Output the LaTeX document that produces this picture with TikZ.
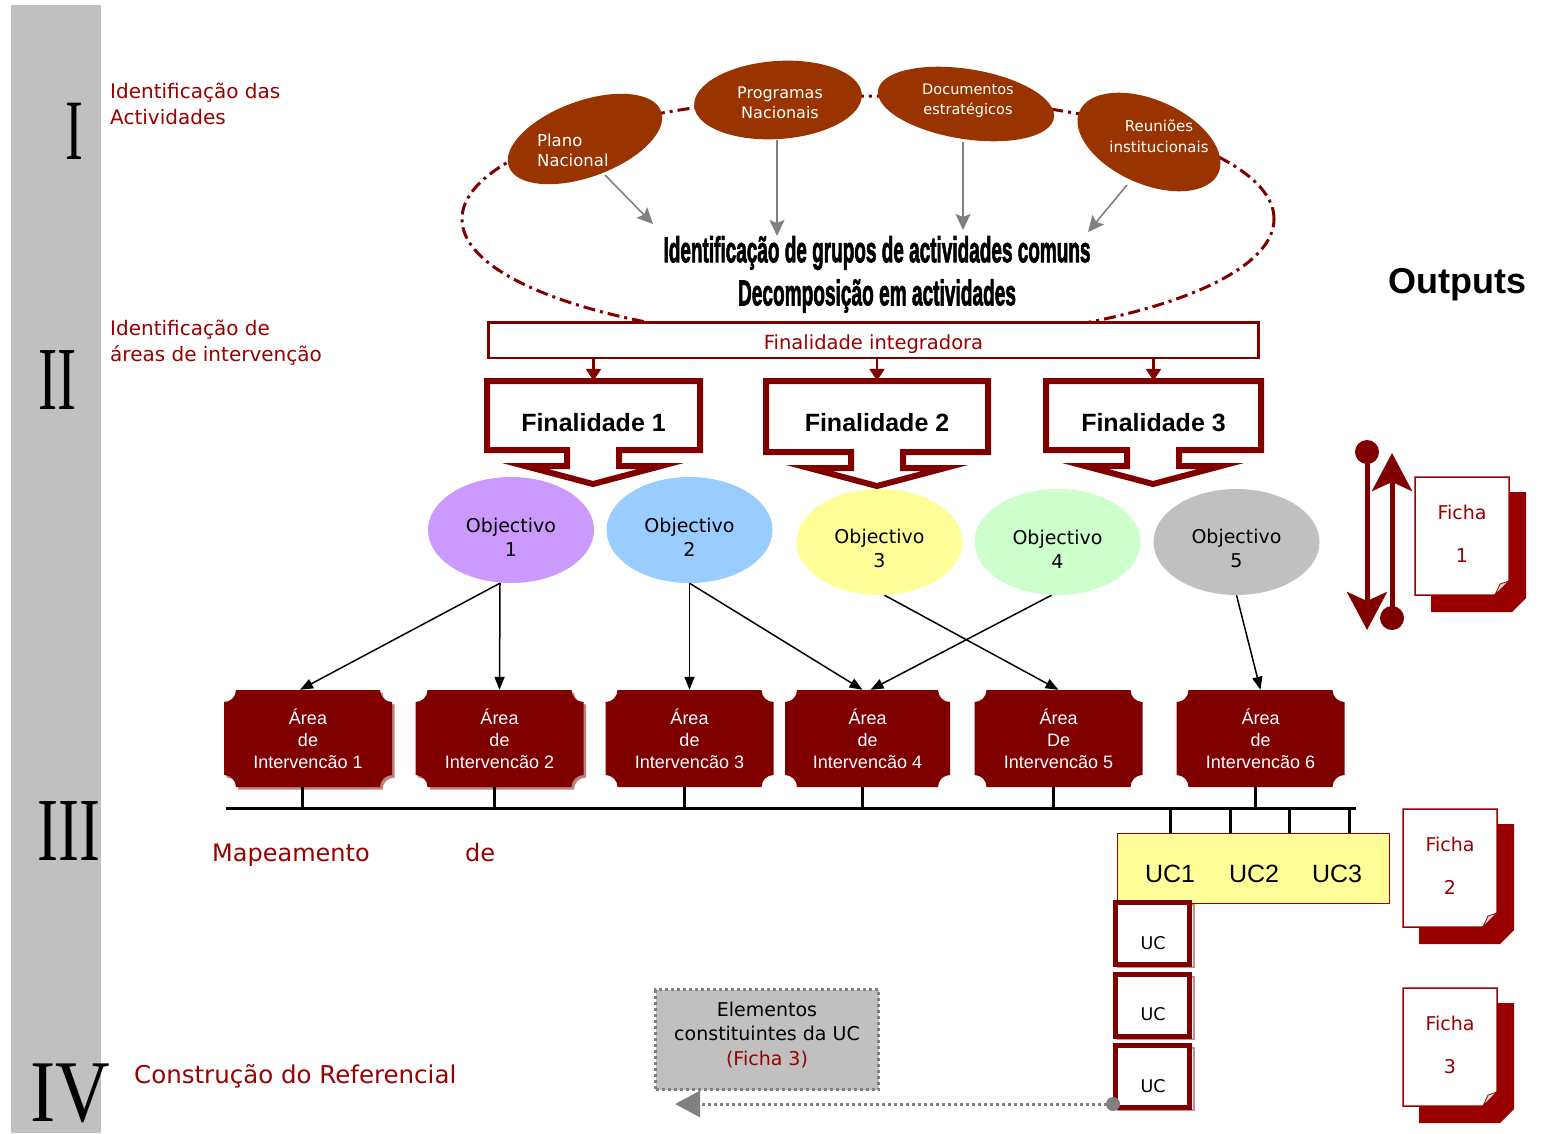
\documentclass[tikz,border=0pt]{standalone}
\usepackage{graphicx}
\usepackage{fontspec}
\setmainfont{DejaVu Sans}
\newfontfamily\arialf{Liberation Sans}
\newfontfamily\heavyf[BoldFeatures={FakeBold=2.5}]{Liberation Sans}
\newfontfamily\timesf{Liberation Serif}
\usetikzlibrary{shapes.geometric,arrows.meta,calc}
\definecolor{dred}{HTML}{800000}
\definecolor{lred}{HTML}{990000}
\definecolor{bub}{HTML}{993300}
\definecolor{bandgray}{HTML}{C0C0C0}
\definecolor{garr}{HTML}{808080}
\definecolor{obA}{HTML}{CC99FF}
\definecolor{obB}{HTML}{99CCFF}
\definecolor{obC}{HTML}{FFFF99}
\definecolor{obD}{HTML}{CCFFCC}
\definecolor{obE}{HTML}{C0C0C0}
\definecolor{ucyel}{HTML}{FFFF99}
\definecolor{areaedge}{HTML}{C08080}
\newsavebox\fitbox
\newcommand\fitto[2]{\sbox\fitbox{#2}\edef\fitscale{\fpeval{#1*65536/\number\wd\fitbox}}\scalebox{\fitscale}[1]{\usebox\fitbox}}
\newcommand\fs[2]{\fontsize{#1}{#2}\selectfont}
% finalidade callout outline: left, right, top, bottom, centre x
\newcommand\finshape[5]{\draw[finline] (#1,-#3) -- (#2,-#3) -- (#2,-#4) -- ({#5+26},-#4) -- ({#5+26},{-#4-16}) -- ({#5+68},{-#4-16}) -- (#5,{-#4-34}) -- ({#5-68},{-#4-16}) -- ({#5-26},{-#4-16}) -- ({#5-26},-#4) -- (#1,-#4) -- cycle;}
% ficha page: name, x, y(top), number
\newcommand\fichapage[4]{%
  \fill[lred] ({#2+16},{-#3-15}) -- ({#2+111},{-#3-15}) -- ({#2+111},{-#3-121}) -- ({#2+97},{-#3-135}) -- ({#2+16},{-#3-135}) -- cycle;
  \draw[lred, fill=white, line width=1.5pt] (#2,-#3) -- ({#2+94},-#3) -- ({#2+94},{-#3-104}) -- ({#2+80},{-#3-118}) -- (#2,{-#3-118}) -- cycle;
  \draw[lred, fill=gray!30, line width=0.8pt] ({#2+94},{-#3-104}) -- ({#2+85},{-#3-107}) -- ({#2+80},{-#3-118}) -- cycle;
  \node[fichatext] (#1) at ({#2+47},{-#3-57}) {Ficha\\#4};}
\newcommand\objtxt[1]{\rule{0pt}{28pt}Objectivo\\#1}
\begin{document}
\begin{tikzpicture}[x=1pt,y=1pt,
  roman/.style={inner sep=0, font=\timesf\fs{90}{90}},
  lab/.style={text=lred, align=left, inner sep=0, anchor=west, font=\fs{20}{26}},
  biglab/.style={text=lred, inner sep=0, anchor=base west, font=\fs{24}{28}},
  bubble/.style={ellipse, fill=bub, inner sep=0},
  btext/.style={text=white, inner sep=0, align=center},
  garrow/.style={draw=garr, line width=1.6pt, -{Stealth[length=16pt,width=15pt,inset=3pt]}},
  finline/.style={draw=dred, fill=white, line width=6pt, line join=miter},
  finnode/.style={inner sep=0, font=\arialf\bfseries\fs{25}{25}},
  finarr/.style={draw=dred, line width=2.5pt, -{Triangle[length=12pt,width=15pt]}},
  obj/.style={ellipse, minimum width=166pt, minimum height=106pt, inner sep=0, align=center, font=\fs{19}{24}},
  objarr/.style={draw=black, line width=1.5pt, -{Triangle[length=13pt,width=10pt]}},
  plaque/.style={minimum width=168pt, minimum height=97pt, inner sep=0,
    path picture={
      \path (path picture bounding box.south west) coordinate (pSW)
            (path picture bounding box.north east) coordinate (pNE);
      \fill[#1] let \p1=(pSW), \p2=(pNE) in
        (\x1+12pt,\y2) -- (\x2-12pt,\y2) arc[start angle=180,end angle=270,radius=12pt]
        -- (\x2,\y1+12pt) arc[start angle=90,end angle=180,radius=12pt]
        -- (\x1+12pt,\y1) arc[start angle=0,end angle=90,radius=12pt]
        -- (\x1,\y2-12pt) arc[start angle=270,end angle=360,radius=12pt] -- cycle;}},
  area/.style={plaque=dred, align=center, text=white, font=\arialf\fs{18}{22}},
  bus/.style={draw=black, line width=3pt},
  ucsmall/.style={draw=dred, line width=5pt, fill=white, minimum width=74pt, minimum height=62pt, inner sep=0},
  uctext/.style={inner sep=0, font=\fs{17.5}{20}},
  fichatext/.style={text=lred, align=center, inner sep=0, font=\fs{19}{43}},
  redarr/.style={draw=dred, line width=5pt, -{Stealth[length=38pt,width=40pt,inset=9pt]}}
]
\useasboundingbox (0,0) rectangle (1549,-1133);

% left band and stage numerals
\fill[bandgray] (11,-5) rectangle (101,-1133);
\node[roman, font=\timesf\fs{86}{86}] (rI) at (74.5,-131.5) {\scalebox{0.62}[1]{I}};
\node[roman] (rII) at (58,-380) {\scalebox{0.64}[1]{II}};
\node[roman] (rIII) at (69,-831) {\scalebox{0.7}[1]{III}};
\node[roman, font=\timesf\fs{88}{88}] (rIV) at (70,-1093) {\scalebox{0.86}[1]{IV}};

% stage labels
\node[lab] (l1) at (110,-104) {Identificação das\\Actividades};
\node[lab] (l2) at (110,-343) {Identificação de\\áreas de intervenção};
\node[biglab] (l3a) at (212,-861) {Mapeamento};
\node[biglab] (l3b) at (465,-861) {de};
\node[biglab, font=\fs{24.5}{28}] (l4) at (134,-1083) {Construção do Referencial};
\node[inner sep=0, font=\arialf\bfseries\fs{36}{36}] (outputs) at (1457,-285) {Outputs};

% big dash-dot ellipse
\draw[dred, line width=3pt, dash pattern=on 12pt off 5pt on 3pt off 5pt] (868,-219) ellipse [x radius=406, y radius=123];

% source bubbles
\node[bubble, minimum width=162pt, minimum height=76pt, rotate=20] (b1) at (585,-139) {};
\node[bubble, minimum width=168pt, minimum height=78pt, rotate=4] (b2) at (778,-100) {};
\node[bubble, minimum width=178pt, minimum height=70pt, rotate=-9] (b3) at (966,-104) {};
\node[bubble, minimum width=152pt, minimum height=84pt, rotate=-24] (b4) at (1149,-142) {};
\node[btext, align=left, anchor=west, font=\fs{16.5}{20}] (b1t) at (537,-150) {Plano\\Nacional};
\node[btext, font=\fs{16}{20}] (b2t) at (780,-103) {Programas\\Nacionais};
\node[btext, font=\fs{14.5}{20}] (b3t) at (968,-101) {Documentos\\estratégicos};
\node[btext, font=\fs{15}{21}] (b4t) at (1159,-136.5) {Reuniões\\institucionais};

% central texts
\node[inner sep=0, font=\heavyf\bfseries\fs{36}{36}] (idA) at (877,-253) {\fitto{427}{Identificação de grupos de actividades comuns}};
\node[inner sep=0, font=\heavyf\bfseries\fs{36}{36}] (idB) at (877,-296) {\fitto{278}{Decomposição em actividades}};
\coordinate (t1) at (653,-224);
\coordinate (t2) at (777,-236);
\coordinate (t3) at (963,-230);
\coordinate (t4) at (1088,-232);
\draw[garrow] ($(b1)+(20,-36)$) -- (t1);
\draw[garrow] ($(b2)+(-1,-40)$) -- (t2);
\draw[garrow] ($(b3)+(-3,-38)$) -- (t3);
\draw[garrow] ($(b4)+(-22,-43)$) -- (t4);

% finalidade integradora
\node[draw=dred, fill=white, line width=2.5pt, minimum width=770pt, minimum height=35.5pt, inner sep=0, text=lred, font=\fs{19.5}{24}] (fint) at (873.5,-340) {\raisebox{-9pt}[0pt][0pt]{Finalidade integradora}};

% finalidades
\finshape{487}{700}{381}{450}{593}
\finshape{766}{988}{381}{452}{877}
\finshape{1046}{1261}{381}{450}{1153}
\node[finnode, minimum width=213pt, minimum height=69pt] (f1) at (593.5,-415.5) {\raisebox{-15.5pt}[0pt][0pt]{Finalidade 1}};
\node[finnode, minimum width=222pt, minimum height=71pt] (f2) at (877,-416.5) {\raisebox{-15pt}[0pt][0pt]{Finalidade 2}};
\node[finnode, minimum width=215pt, minimum height=69pt] (f3) at (1153.5,-415.5) {\raisebox{-15.5pt}[0pt][0pt]{Finalidade 3}};
\draw[finarr] (fint.south -| f1.north) -- (f1.north);
\draw[finarr] (fint.south -| f2.north) -- (f2.north);
\draw[finarr] (fint.south -| f3.north) -- (f3.north);

% objectives
\node[obj, fill=obA] (o1) at (511,-530) {\objtxt{1}};
\node[obj, fill=obB] (o2) at (689.5,-530) {\objtxt{2}};
\node[obj, fill=obC] (o3) at (879.5,-542) {\objtxt{3}};
\node[obj, fill=obD] (o4) at (1057.5,-542) {\objtxt{4}};
\node[obj, fill=obE] (o5) at (1236.5,-542) {\objtxt{5}};

% light 3D edge behind areas 1 and 2
\node[plaque=areaedge] (a1e) at (310.5,-741) {};
\node[plaque=areaedge] (a2e) at (502,-741) {};

% areas
\node[area] (a1) at (308,-738.5) {Área\\de\\Intervencão 1};
\node[area] (a2) at (499.5,-738.5) {Área\\de\\Intervencão 2};
\node[area] (a3) at (689.5,-738.5) {Área\\de\\Intervencão 3};
\node[area, minimum width=165pt] (a4) at (867.5,-738.5) {Área\\de\\Intervencão 4};
\node[area] (a5) at (1058.5,-738.5) {Área\\De\\Intervencão 5};
\node[area] (a6) at (1260.5,-738.5) {Área\\de\\Intervencão 6};

% objective -> area connectors
\draw[objarr] ([xshift=-11pt]o1.south) -- ([xshift=-8pt]a1.north);
\draw[objarr] ([xshift=-11pt]o1.south) -- (a2.north);
\draw[objarr] (o2.south) -- (a3.north);
\draw[objarr] (o2.south) -- ([xshift=-5pt]a4.north);
\draw[objarr] ([xshift=5pt]o3.south) -- (a5.north);
\draw[objarr] ([xshift=-6pt]o4.south) -- ([xshift=3pt]a4.north);
\draw[objarr] (o5.south) -- (a6.north);

% bus
\coordinate (busL) at (226,-808);
\coordinate (busR) at (1356,-808);
\draw[bus] (busL) -- (busR);
\foreach \n in {a1,a2,a3,a4,a5,a6}{\draw[bus] ([xshift=-5.5pt]\n.south) -- ++(0,-21);}

% UC block
\node[draw=lred, line width=1.5pt, fill=ucyel, minimum width=272pt, minimum height=70pt, inner sep=0] (ucbox) at (1253.5,-868.5) {};
\foreach \dx in {54,114,173,233}{\draw[bus] ([xshift=\dx pt]ucbox.north west) -- ++(0,25);}
\node[inner sep=0, font=\arialf\fs{25}{25}] (uc1) at (1170,-874) {UC1};
\node[inner sep=0, font=\arialf\fs{25}{25}] (uc2) at (1254,-874) {UC2};
\node[inner sep=0, font=\arialf\fs{25}{25}] (uc3) at (1337,-874) {UC3};

\foreach \n/\y in {u1/933.5,u2/1005.5,u3/1076.5}{
  \draw[draw=lred!45, line width=2pt] (1117.5,-\y+29) rectangle (1193.5,-\y-33.5);
  \node[ucsmall] (\n) at (1152.5,-\y) {};}
\node[uctext] (u1t) at (1153,-943) {UC};
\node[uctext] (u2t) at (1153,-1014) {UC};
\node[uctext] (u3t) at (1153,-1086) {UC};

% elementos box and dotted connector
\node[fill=bandgray, draw=garr, line width=3pt, dash pattern=on 3pt off 3pt, minimum width=223pt, minimum height=100pt, inner sep=0] (elem) at (767,-1039.5) {};
\node[inner sep=0, align=center, font=\fs{19}{24.5}] (elemt) at (767,-1035) {Elementos\\constituintes da UC\\\textcolor{lred}{(Ficha 3)}};
\coordinate (dotc) at ([yshift=6pt]u3.south west);
\coordinate (tipc) at ($(elem.south west |- dotc)+(21,0)$);
\draw[garr, line width=3pt, dash pattern=on 3pt off 3pt, -{Triangle[length=25pt,width=26pt]}] (dotc) -- (tipc);
\fill[garr] (dotc) circle (7);

% outputs feedback arrows
\coordinate (ra1) at (1367,-452);
\coordinate (ra2) at (1367,-630);
\coordinate (rb1) at (1392,-618);
\coordinate (rb2) at (1392,-453);
\draw[redarr] (ra1) -- (ra2);
\draw[redarr] (rb1) -- (rb2);
\fill[dred] (ra1) circle (12);
\fill[dred] (rb1) circle (12);

% fichas
\fichapage{fi1}{1415}{477}{1}
\fichapage{fi2}{1403}{809}{2}
\fichapage{fi3}{1403}{988}{3}
\end{tikzpicture}
\end{document}
